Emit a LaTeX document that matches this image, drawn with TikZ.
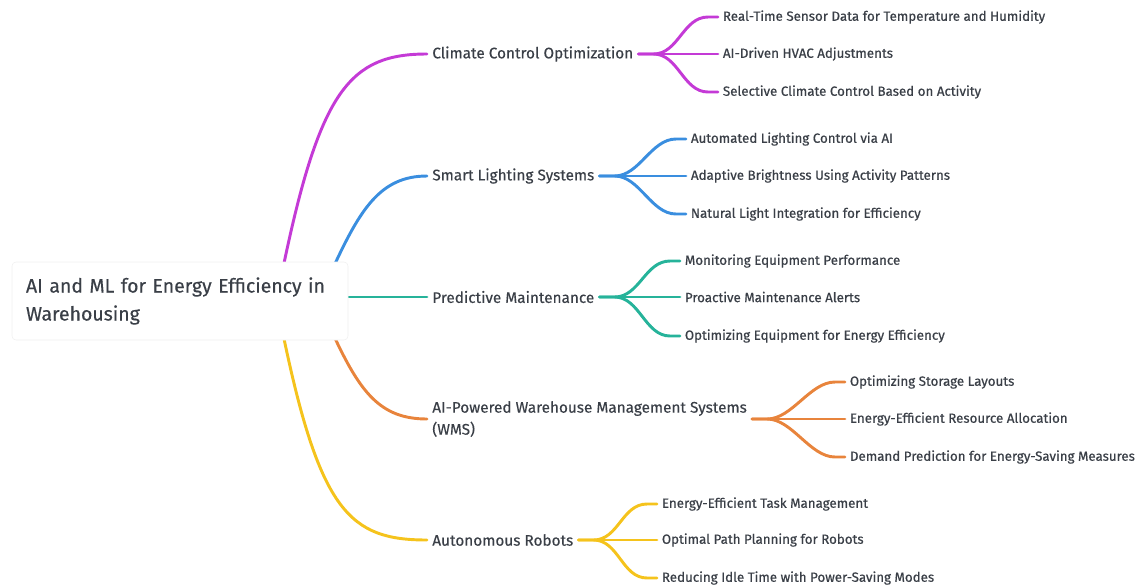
\documentclass[tikz,border=0pt]{standalone}
\usepackage{fontspec}
\setmainfont{Fira Sans}
\newfontfamily\leaffont{Fira Sans}[FakeBold=0.6]
\newfontfamily\topicfont{Fira Sans}[FakeBold=0.35]
\usetikzlibrary{calc,backgrounds}

\definecolor{ink}{HTML}{3A3F47}
\definecolor{cmag}{HTML}{C43AD6}
\definecolor{cblue}{HTML}{3A8EDF}
\definecolor{cteal}{HTML}{26B39A}
\definecolor{corange}{HTML}{E8843C}
\definecolor{cyellow}{HTML}{F5C31C}

\tikzset{
  rootbox/.style={draw=gray!12,fill=white,rounded corners=3pt,minimum width=252pt,
    minimum height=58.5pt,inner sep=10.5pt,text width=231pt,align=left,
    font=\topicfont\fontsize{14.6}{21}\selectfont,text=ink},
  topic/.style={anchor=west,inner sep=3.8pt,align=left,font=\topicfont\fontsize{11.5}{16.5}\selectfont,text=ink},
  leaf/.style={anchor=west,inner sep=3.5pt,font=\leaffont\fontsize{10}{12}\selectfont,text=ink},
  link/.style={line width=2.2pt,line cap=round},
}

\begin{document}
\begin{tikzpicture}[x=0.75pt,y=-0.75pt]
\useasboundingbox (0,0) rectangle (1143,587);

% root
\node[rootbox] (root) at (180,301) {AI and ML for Energy Efficiency in\\Warehousing};

% main topics
\node[topic] (cco) at (427,54) {Climate Control Optimization};
\node[topic] (sls) at (427,176) {Smart Lighting Systems};
\node[topic] (pm) at (427,297) {Predictive Maintenance};
\node[topic] (wms) at (427,419) {AI-Powered Warehouse Management Systems\\(WMS)};
\node[topic] (ar) at (427,540) {Autonomous Robots};

% leaves
\node[leaf] (cco1) at (718,17) {Real-Time Sensor Data for Temperature and Humidity};
\node[leaf] (cco2) at (718,54) {AI-Driven HVAC Adjustments};
\node[leaf] (cco3) at (718,92) {Selective Climate Control Based on Activity};

\node[leaf] (sls1) at (686,139) {Automated Lighting Control via AI};
\node[leaf] (sls2) at (686,176) {Adaptive Brightness Using Activity Patterns};
\node[leaf] (sls3) at (686,214) {Natural Light Integration for Efficiency};

\node[leaf] (pm1) at (680,261) {Monitoring Equipment Performance};
\node[leaf] (pm2) at (680,297) {Proactive Maintenance Alerts};
\node[leaf] (pm3) at (680,336) {Optimizing Equipment for Energy Efficiency};

\node[leaf] (wms1) at (845,382) {Optimizing Storage Layouts};
\node[leaf] (wms2) at (845,419) {Energy-Efficient Resource Allocation};
\node[leaf] (wms3) at (845,457) {Demand Prediction for Energy-Saving Measures};

\node[leaf] (ar1) at (657,504) {Energy-Efficient Task Management};
\node[leaf] (ar2) at (657,540) {Optimal Path Planning for Robots};
\node[leaf] (ar3) at (657,578) {Reducing Idle Time with Power-Saving Modes};

% root branches, behind the root box
\begin{scope}[on background layer]
\coordinate (rm) at (283,268);
\coordinate (rb) at (333,268);
\coordinate (ro) at (333,334);
\coordinate (ry) at (283,334);
\draw[link,cmag] (rm) .. controls (320,90) and (350,54) .. (cco.west);
\draw[link,cblue] (rb) .. controls (360,210) and (380,176) .. (sls.west);
\draw[link,cteal] (root.east |- pm.west) -- (pm.west);
\draw[link,corange] (ro) .. controls (360,392) and (380,419) .. (wms.west);
\draw[link,cyellow] (ry) .. controls (320,512) and (350,540) .. (ar.west);
\end{scope}

% forks to the leaves
\foreach \t/\c in {cco/cmag,sls/cblue,pm/cteal,wms/corange,ar/cyellow}
  \foreach \i in {1,2,3}
    \draw[link,\c] (\t.east) -- ++(15,0) .. controls +(25,0) and +(-25,0) .. ($(\t\i.west)+(-10,0)$) -- (\t\i.west);

\end{tikzpicture}
\end{document}
